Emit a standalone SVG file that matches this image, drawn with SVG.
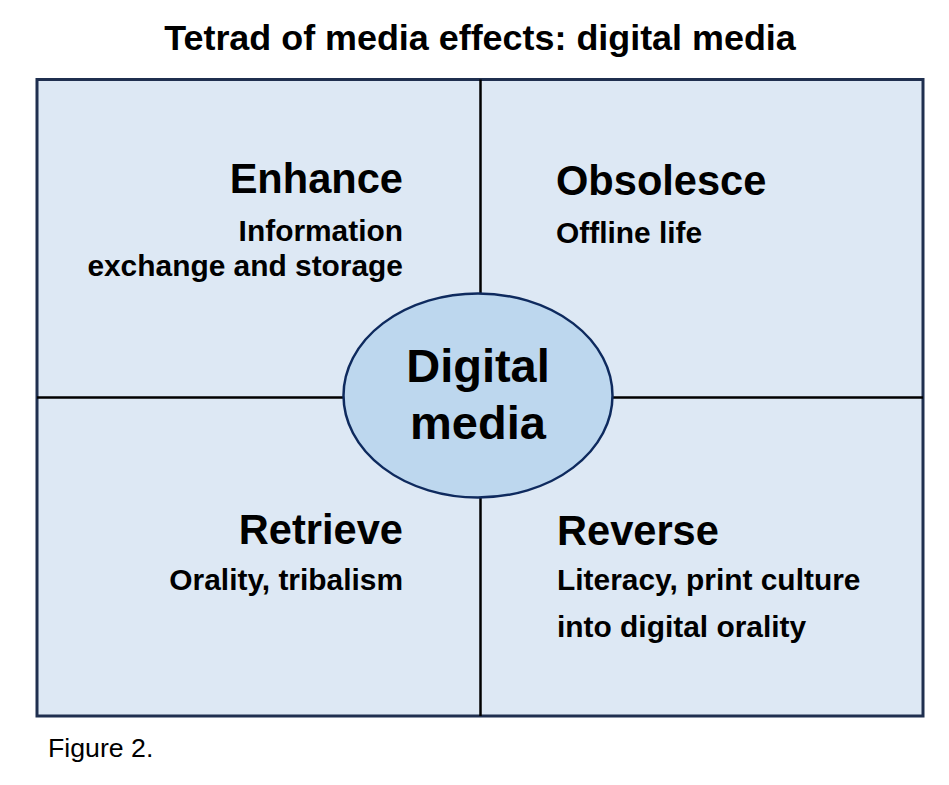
<svg xmlns="http://www.w3.org/2000/svg" width="949" height="785" viewBox="0 0 949 785">
<style>
text{font-family:"Liberation Sans",Arial,sans-serif;fill:#000}
.b{font-weight:bold}
.h{font-size:41.6px;font-weight:bold}
.s{font-size:29.9px;font-weight:bold}
.div{stroke:#000;stroke-width:2.5;fill:none}
</style>
<rect width="949" height="785" fill="#fff"/>
<text class="b" x="480" y="50" font-size="35.9" text-anchor="middle">Tetrad of media effects: digital media</text>
<g id="frame">
<rect x="37" y="79.5" width="886" height="636.5" fill="#DDE8F4" stroke="#1F2F4F" stroke-width="3"/>
</g>
<g id="connectors">
<line class="div" x1="480.5" y1="79.5" x2="480.5" y2="716"/>
<line class="div" x1="37" y1="397.5" x2="923" y2="397.5"/>
</g>
<g id="enhance">
<text class="h" x="403" y="193" text-anchor="end">Enhance</text>
<text class="s" x="403" y="241" text-anchor="end">Information</text>
<text class="s" x="403" y="276" text-anchor="end">exchange and storage</text>
</g>
<g id="obsolesce">
<text class="h" x="556" y="195">Obsolesce</text>
<text class="s" x="556" y="243">Offline life</text>
</g>
<g id="retrieve">
<text class="h" x="403" y="544" text-anchor="end">Retrieve</text>
<text class="s" x="403" y="590" text-anchor="end">Orality, tribalism</text>
</g>
<g id="reverse">
<text class="h" x="557" y="545">Reverse</text>
<text class="s" x="557" y="590">Literacy, print culture</text>
<text class="s" x="557" y="637">into digital orality</text>
</g>
<g id="center">
<ellipse cx="478" cy="395.5" rx="134.5" ry="102" fill="#BDD7EE" stroke="#0E2A5E" stroke-width="2.5"/>
<text class="b" x="478" y="382" font-size="47" text-anchor="middle">Digital</text>
<text class="b" x="478" y="439" font-size="47" text-anchor="middle">media</text>
</g>
<text x="48" y="757" font-size="26.7">Figure 2.</text>
</svg>
